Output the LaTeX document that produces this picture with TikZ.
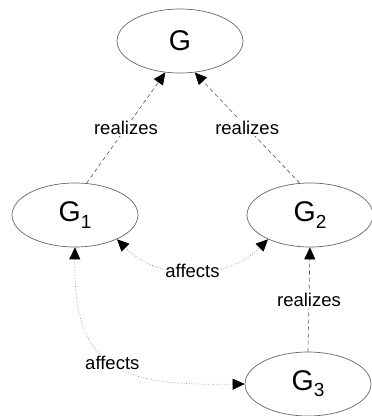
\documentclass[tikz,border=0pt]{standalone}
\usepackage{fontspec}
\setmainfont{Liberation Sans}
\usetikzlibrary{shapes.geometric,arrows.meta}

\newcommand{\gname}[1]{G\raisebox{-0.22em}{\fontsize{19}{19}\selectfont #1}}

\tikzset{
  state/.style={ellipse, draw=black!60, line width=0.7pt, inner sep=0pt,
    minimum width=126pt, minimum height=64pt, font=\fontsize{28.5}{28.5}\selectfont},
  head/.tip={Triangle[length=12pt,width=11pt,color=black,fill=black]},
  tip/.style={-head},
  twotip/.style={head-head},
  realizes/.style={tip, draw=black!65, line width=0.6pt, dash pattern=on 4pt off 3pt},
  affects/.style={twotip, draw=black!45, line width=0.7pt, dotted},
  lbl/.style={fill=white, inner sep=1.5pt, text=black, font=\fontsize{18.5}{18.5}\selectfont}
}

\begin{document}
\begin{tikzpicture}[x=1pt, y=-1pt]
  \useasboundingbox (0,0) rectangle (372,416);
  \clip (0,0) rectangle (372,416);

  % goal nodes
  \node[state] (g)  at (180,41)  {G};
  \node[state] (g1) at (75,215)  {\gname{1}};
  \node[state] (g2) at (310,215) {\gname{2}};
  \node[state] (g3) at (308,384) {\gname{3}};

  % realization links
  \draw[realizes] (g1.70) -- node[lbl, pos=0.5] {realizes} (g.-115);
  \draw[realizes] (g2.108) -- node[lbl, pos=0.5] {realizes} (g.-65);
  \draw[realizes] (g3.north) -- node[lbl, pos=0.5] {realizes} (g2.south);

  % mutual influence links
  \draw[affects] (g1.-30) .. controls (160,282) and (225,282) ..
    node[lbl, pos=0.5] {affects} (g2.-150);
  \draw[affects] (g1.south) .. controls (73,370) and (120,386) ..
    node[lbl, pos=0.5] {affects} (g3.west);
\end{tikzpicture}
\end{document}
